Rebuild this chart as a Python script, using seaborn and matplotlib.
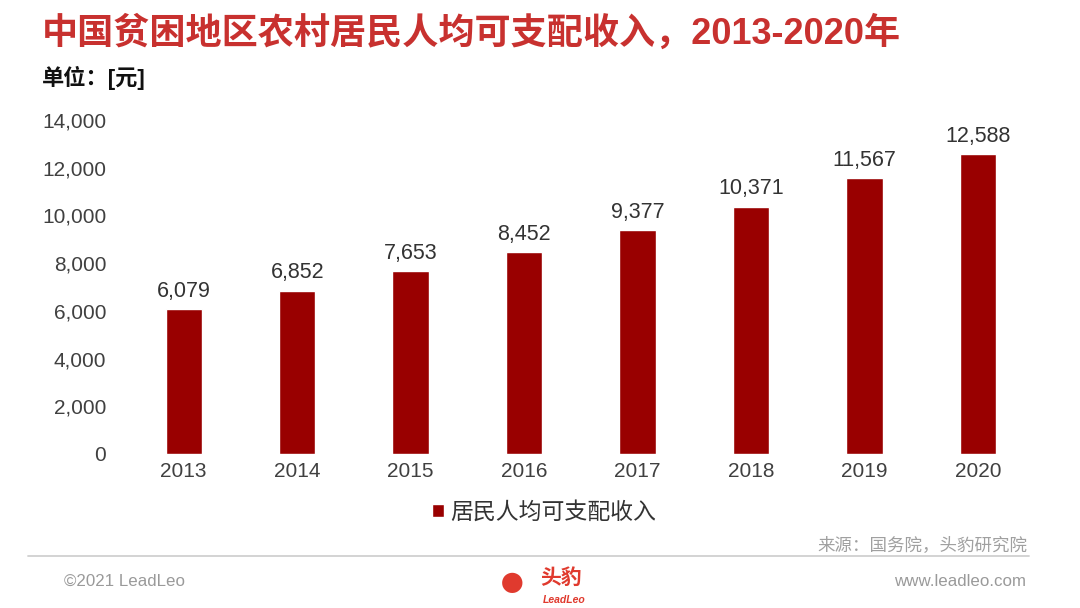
import matplotlib
matplotlib.use("Agg")
import matplotlib.pyplot as plt
import seaborn as sns
import pandas as pd

years = ["2013", "2014", "2015", "2016", "2017", "2018", "2019", "2020"]
income = [6079, 6852, 7653, 8452, 9377, 10371, 11567, 12588]
series_name = "居民人均可支配收入"
yticks = [0, 2000, 4000, 6000, 8000, 10000, 12000, 14000]

sns.set_theme(style="white")
plt.rcParams["font.family"] = ["Liberation Sans", "Noto Sans CJK SC", "DejaVu Sans"]

df = pd.DataFrame({"year": years, "income": income})
bar_color = "#990000"

fig = plt.figure(figsize=(10.8, 6.08), dpi=100)
ax = fig.add_axes([0.1176, 0.2533, 0.8404, 0.5493])

sns.barplot(data=df, x="year", y="income", color=bar_color, saturation=1,
            width=0.32, label=series_name, ax=ax)

ax.set_ylim(0, 14000)
ax.set_yticks(yticks)
ax.set_yticklabels([f"{v:,}" for v in yticks])
ax.set_xlim(-0.5, len(years) - 0.5)
ax.set_xlabel("")
ax.set_ylabel("")
for s in ax.spines.values():
    s.set_visible(False)
ax.tick_params(axis="both", length=0, labelsize=15, labelcolor="#404040")
ax.tick_params(axis="y", pad=15)
ax.tick_params(axis="x", pad=6)

for i, v in enumerate(income):
    ax.text(i, v + 300, f"{v:,}", ha="center", va="bottom", fontsize=15.5, color="#333333")

handles, labels = ax.get_legend_handles_labels()
ax.legend(handles, labels, loc="center", bbox_to_anchor=(0.504, 0.158),
          bbox_transform=fig.transFigure, frameon=False,
          fontsize=16.5, handlelength=0.5, handleheight=0.5, handletextpad=0.3,
          labelcolor="#333333")

# title block
fig.text(0.039, 0.945, "中国贫困地区农村居民人均可支配收入，2013-2020年", fontsize=26,
         fontweight="bold", color="#C8312F", va="center", ha="left")
fig.text(0.039, 0.872, "单位：[元]", fontsize=16, fontweight="bold", color="#111111",
         va="center", ha="left")

# footer
fig.text(0.951, 0.102, "来源：国务院，头豹研究院", fontsize=12.6, style="italic",
         color="#a0a0a0", ha="right", va="center")
fig.add_artist(plt.Line2D([0.026, 0.953], [0.086, 0.086], color="#d0d0d0", lw=1.3))
fig.text(0.059, 0.044, "©2021 LeadLeo", fontsize=12.2, color="#9a9a9a", ha="left", va="center")
fig.text(0.950, 0.044, "www.leadleo.com", fontsize=12.2, color="#9a9a9a", ha="right", va="center")
fig.text(0.500, 0.049, "头豹", fontsize=15, fontweight="bold", color="#E03A2E",
         ha="left", va="center")
fig.text(0.522, 0.013, "LeadLeo", fontsize=7.5, style="italic", fontweight="bold",
         color="#E03A2E", ha="center", va="center")
fig.text(0.474, 0.040, "●", fontsize=34, color="#E03A2E", ha="center", va="center")

fig.savefig("out.png", dpi=100, facecolor="white")
